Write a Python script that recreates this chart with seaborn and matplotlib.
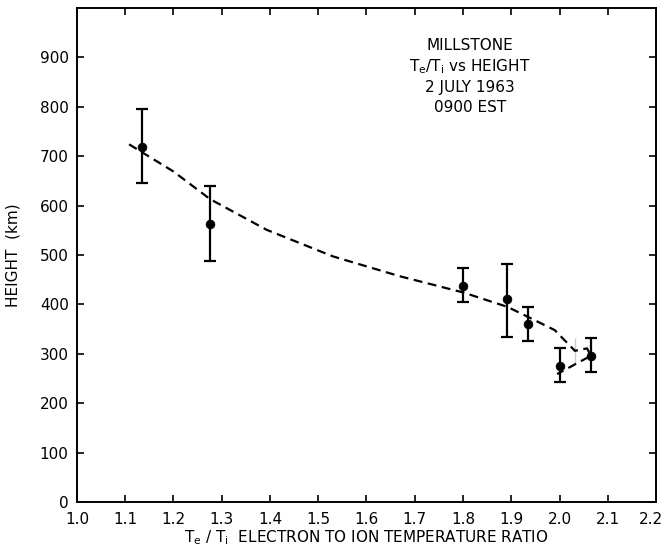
import numpy as np
import pandas as pd
import seaborn as sns
import matplotlib.pyplot as plt
from matplotlib.transforms import ScaledTranslation

# measured points (Te/Ti ratio, height km) with error bar limits
ratio = [1.134, 1.276, 1.801, 1.892, 1.934, 2.000, 2.065]
height = [719, 563, 438, 410, 360, 276, 296]
height_low = [645, 488, 404, 335, 325, 242, 263]
height_high = [795, 640, 474, 482, 394, 311, 331]

# hand-drawn dashed trend curve
curve_ratio = [1.108, 1.200, 1.276, 1.393, 1.531, 1.669, 1.801, 1.892,
               1.934, 1.990, 2.032, 2.057, 2.065, 2.032, 1.995]
curve_height = [724, 669, 613, 551, 497, 457, 424, 395,
                375, 348, 331, 311, 296, 281, 259]

x_ticks = [1.0, 1.1, 1.2, 1.3, 1.4, 1.5, 1.6, 1.7, 1.8, 1.9, 2.0, 2.1, 2.2]
y_ticks = [0, 100, 200, 300, 400, 500, 600, 700, 800, 900]

sns.set_style("ticks", {"text.color": "black", "axes.labelcolor": "black",
                        "xtick.color": "black", "ytick.color": "black",
                        "axes.edgecolor": "black"})
plt.rcParams['font.family'] = ['DejaVu Sans']
plt.rcParams['mathtext.default'] = 'regular'

pts = pd.DataFrame({"ratio": ratio, "height": height})
curve = pd.DataFrame({"ratio": curve_ratio, "height": curve_height})

fig = plt.figure(figsize=(6.66, 5.52), dpi=100)
ax = fig.add_axes([0.1156, 0.0906, 0.8694, 0.8949])

sns.lineplot(data=curve, x="ratio", y="height", sort=False, color="black",
             linestyle=(0, (4, 2.5)), linewidth=1.6, ax=ax)
yerr = [np.array(height) - np.array(height_low), np.array(height_high) - np.array(height)]
ax.errorbar(ratio, height, yerr=yerr, fmt="none", ecolor="black",
            elinewidth=1.6, capsize=4, capthick=1.6)
sns.scatterplot(data=pts, x="ratio", y="height", color="black", s=40,
                edgecolor="black", zorder=5, ax=ax)

ax.set_xlim(1.0, 2.2)
ax.set_ylim(0, 1000)
ax.set_xticks(x_ticks)
ax.set_xticklabels([f"{v:.1f}" for v in x_ticks])
ax.set_yticks(y_ticks)
ax.set_yticklabels([str(v) for v in y_ticks])
ax.tick_params(direction="in", top=True, right=True, length=5, width=1.2,
               labelsize=11, colors="black")
ax.tick_params(axis="x", pad=7)
ax.tick_params(axis="y", pad=6)
for s in ax.spines.values():
    s.set_linewidth(1.4)
    s.set_color("black")

# keep the last x label inside the figure
last = ax.get_xticklabels()[-1]
last.set_transform(last.get_transform() + ScaledTranslation(-0.05, 0, fig.dpi_scale_trans))

ax.set_xlabel("$T_e$ / $T_i$  ELECTRON TO ION TEMPERATURE RATIO", fontsize=11,
              labelpad=1, color="black")
ax.set_ylabel("HEIGHT  (km)", fontsize=11, labelpad=14, color="black")

ax.text(0.679, 0.94, "MILLSTONE\n$T_e$/$T_i$ vs HEIGHT\n2 JULY 1963\n0900 EST",
        transform=ax.transAxes, ha="center", va="top", fontsize=11,
        linespacing=1.35, color="black")

fig.savefig("out.png", dpi=100)
